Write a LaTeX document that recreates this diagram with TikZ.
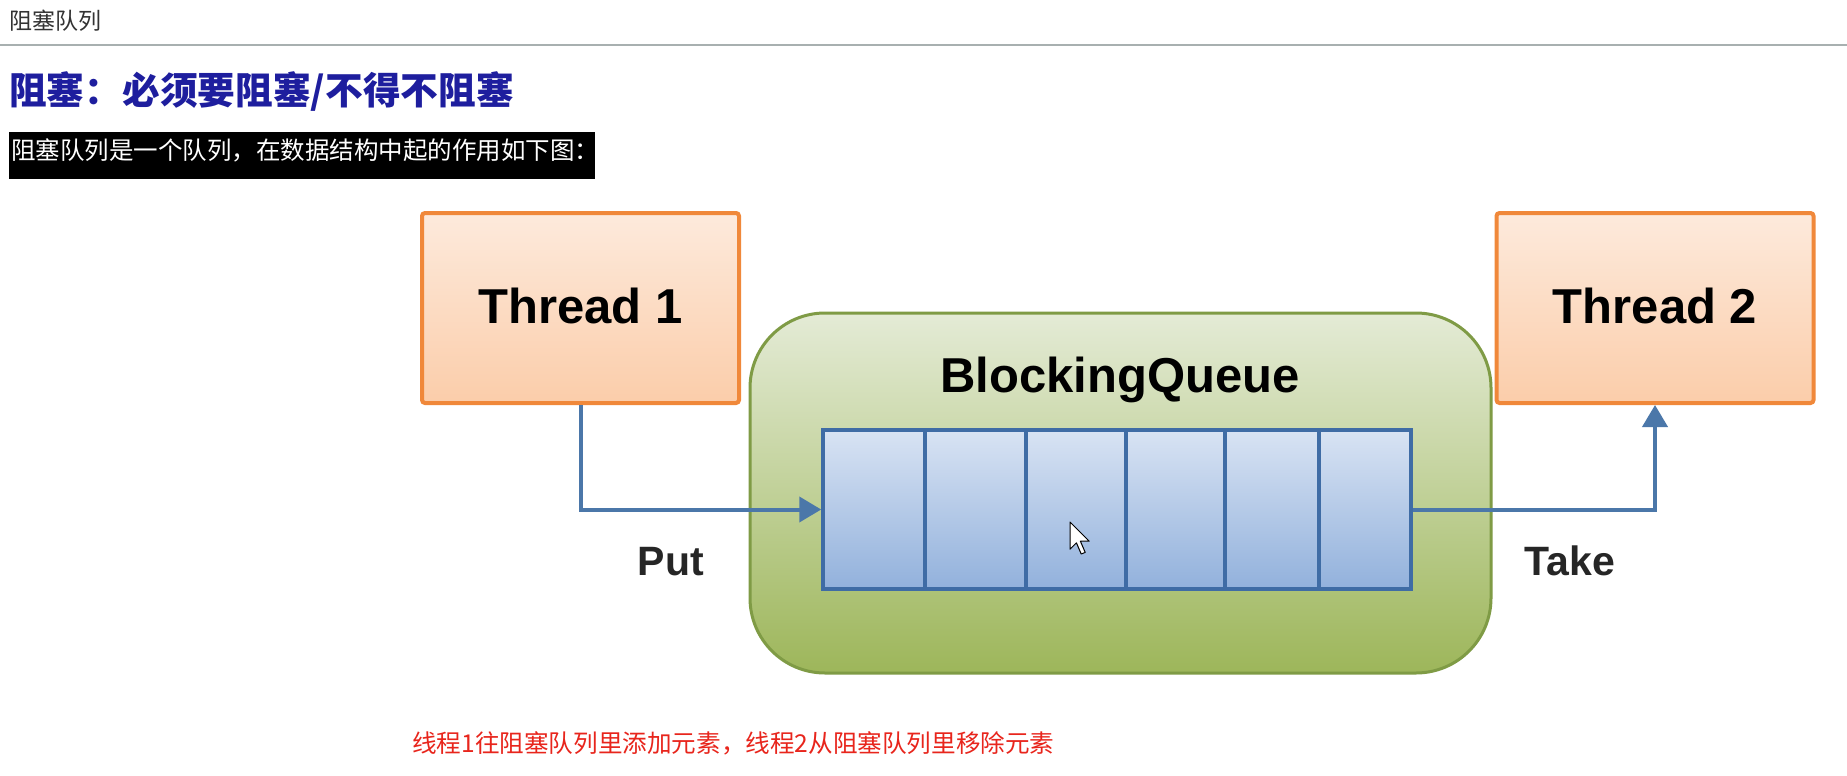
\documentclass[tikz,border=0pt]{standalone}
\usepackage{fontspec}
\setmainfont{Liberation Sans}
\newfontfamily\cjk{Noto Sans CJK SC}
\usetikzlibrary{arrows.meta}
\definecolor{orB}{HTML}{F0883A}
\definecolor{orT}{HTML}{FDEADC}
\definecolor{orD}{HTML}{FBCDAA}
\definecolor{grB}{HTML}{7F9B45}
\definecolor{grT}{HTML}{E4EBD6}
\definecolor{grD}{HTML}{9DB65A}
\definecolor{quB}{HTML}{3F6CA5}
\definecolor{quT}{HTML}{D8E3F3}
\definecolor{quD}{HTML}{92B1DC}
\definecolor{arC}{HTML}{4B77A9}
\definecolor{ttl}{HTML}{1E1E9E}
\definecolor{rd}{HTML}{E8251C}
\definecolor{hl}{HTML}{A8B0B0}
\tikzset{
  threadbox/.style={draw=orB, line width=4pt, rounded corners=3pt, top color=orT, bottom color=orD,
    minimum width=317pt, minimum height=190pt, inner sep=0pt},
  qbox/.style={draw=grB, line width=3pt, rounded corners=75pt, top color=grT, bottom color=grD,
    minimum width=741pt, minimum height=360pt, inner sep=0pt},
  cell/.style={draw=quB, line width=3.5pt, top color=quT, bottom color=quD,
    minimum height=159pt, inner sep=0pt},
  big/.style={font=\fontsize{49pt}{55pt}\selectfont\bfseries, anchor=base},
  lab/.style={font=\fontsize{41pt}{46pt}\selectfont\bfseries, anchor=base, text=black!85},
  arr/.style={draw=arC, line width=4pt, -{Triangle[length=22pt,width=25pt]}},
}
\begin{document}
\begin{tikzpicture}[x=1pt,y=-1pt]
\useasboundingbox[fill=white] (0,0) rectangle (1847,776);
% header
\node[anchor=west, inner sep=0pt, text=black!80, font=\cjk\fontsize{23pt}{26pt}\selectfont] (hdr) at (9,21) {阻塞队列};
\draw[hl, line width=2pt] (0,45) -- (1847,45);
\node[anchor=west, inner sep=0pt, text=ttl, font=\cjk\bfseries\fontsize{37.7pt}{40pt}\selectfont] (title) at (9,92) {阻塞：必须要阻塞/不得不阻塞};
\fill[black] (9,132) rectangle (595,179);
\node[anchor=west, inner sep=0pt, text=white, font=\cjk\fontsize{24.5pt}{28pt}\selectfont] (sub) at (11,150) {阻塞队列是一个队列，在数据结构中起的作用如下图：};
% diagram
\node[threadbox] (t1) at (580.5,308) {};
\node[big] at (580.5,323) {Thread 1};
\node[threadbox] (t2) at (1655,308) {};
\node[big] at (1655,323) {Thread 2};
\node[qbox] (bq) at (1120.5,493) {};
\node[big] (bqt) at (1120,392) {BlockingQueue};
\node[cell, minimum width=102pt] (c1) at (874,509.5) {};
\node[cell, minimum width=101pt] (c2) at (975.5,509.5) {};
\node[cell, minimum width=100pt] (c3) at (1076,509.5) {};
\node[cell, minimum width=99pt] (c4) at (1175.5,509.5) {};
\node[cell, minimum width=94pt] (c5) at (1272,509.5) {};
\node[cell, minimum width=92pt] (c6) at (1365,509.5) {};
\draw[arr] (t1.south) |- (c1.west);
\draw[arr] (c6.east) -| (t2.south);
\node[lab] (put) at (671,575) {Put};
\node[lab] (take) at (1570,575) {Take};
% mouse cursor
\begin{scope}[shift={(1070,522)}, scale=1.6]
\filldraw[fill=white, draw=black, line width=1pt, line join=round]
  (0,0) -- (0,17) -- (4,13) -- (7,20) -- (9.5,19) -- (6.5,12) -- (12,12) -- cycle;
\end{scope}
% caption
\node[anchor=west, inner sep=0pt, text=rd, font=\cjk\fontsize{24.6pt}{28pt}\selectfont] (cap) at (412,743) {线程1往阻塞队列里添加元素，线程2从阻塞队列里移除元素};
\end{tikzpicture}
\end{document}
